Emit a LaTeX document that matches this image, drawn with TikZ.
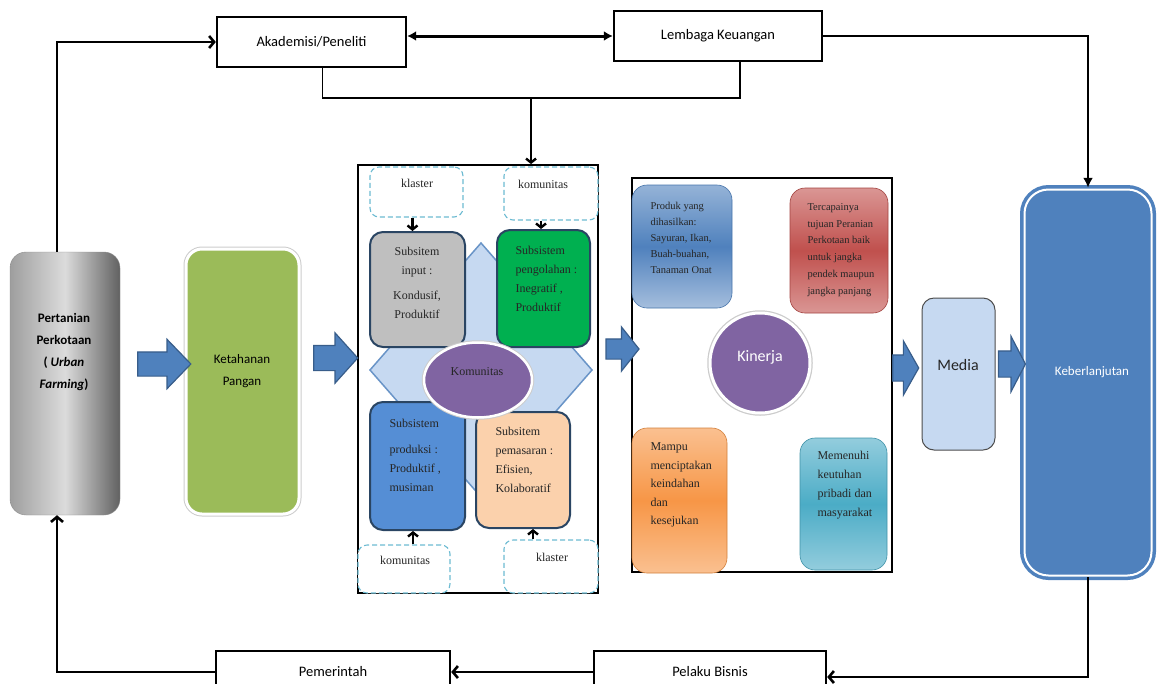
\documentclass[tikz,border=0pt]{standalone}
\usepackage{fontspec}
\setmainfont{Liberation Serif}
\newfontfamily\calibri{Carlito}
\usetikzlibrary{arrows.meta,shapes.geometric,shapes.arrows}

\definecolor{ofblue}{HTML}{4F81BD}
\definecolor{ofdarkblue}{HTML}{385D8A}
\definecolor{oflightblue}{HTML}{C6D9F1}
\definecolor{ofpurple}{HTML}{8064A2}
\definecolor{ofgreen}{HTML}{9BBB59}
\definecolor{ofbrightgreen}{HTML}{00B050}
\definecolor{ofpeach}{HTML}{FBD1AC}
\definecolor{ofprodblue}{HTML}{558ED5}
\definecolor{ofedge}{HTML}{2A4563}
\definecolor{ofdash}{HTML}{6DBBD2}
\definecolor{blueTop}{HTML}{95B3D7}
\definecolor{redTop}{HTML}{DA9694}
\definecolor{redMid}{HTML}{C0504D}
\definecolor{orangeTop}{HTML}{FAC090}
\definecolor{orangeMid}{HTML}{F79646}
\definecolor{tealTop}{HTML}{93CDDD}
\definecolor{tealMid}{HTML}{4BACC6}

\begin{document}
\begin{tikzpicture}[x=1pt, y=-1pt,
  flow/.style={line width=2.6pt, -{Straight Barb[length=5pt,width=12pt]}},
  topbox/.style={draw, line width=2.4pt, fill=white, minimum height=#1,
    font=\calibri\fontsize{14.5}{17}\selectfont},
  dashbox/.style={draw=ofdash, fill=white, line width=1.1pt, rounded corners=9pt,
    dash pattern=on 5pt off 3pt},
  subbox/.style={draw=ofedge, line width=2pt, rounded corners=13pt},
  kinbox/.style={line width=0.6pt, rounded corners=15pt},
  blockarrow/.style={single arrow, draw=ofdarkblue, fill=ofblue, line width=1.2pt,
    inner xsep=0pt, text height=0pt, text depth=0pt},
  feed/.style={line width=2.4pt, -{Straight Barb[length=4pt,width=10pt]}},
  serif/.style={font=\fontsize{#1}{#1}\selectfont, text=black!85},
  subtxt/.style={align=left, anchor=west, text=black!85},
  calitxt/.style={font=\calibri\fontsize{#1}{22}\selectfont, align=center}]

  \useasboundingbox (0,0) rectangle (1158,683);

  % Top row
  \node[topbox=50pt, minimum width=189pt] (akad) at (311.5,42) {Akademisi/Peneliti};
  \node[topbox=50pt, minimum width=208pt] (lemb) at (718,36) {Lembaga Keuangan};
  \draw[line width=3pt, {Latex[length=9pt,width=10pt]}-{Latex[length=9pt,width=10pt]}]
    (akad.east |- lemb.west) -- (lemb.west);

  \coordinate (join) at (531,98);
  \draw[line width=1.5pt] ([xshift=11pt]akad.south) -- ([xshift=11pt]akad.south |- join)
    -- ([xshift=22pt]lemb.south |- join) -- ([xshift=22pt]lemb.south);

  % Bottom row
  \node[topbox=42pt, minimum width=234pt] (pemer) at (333,672) {Pemerintah};
  \node[topbox=42pt, minimum width=232pt] (pelaku) at (710,672) {Pelaku Bisnis};

  % Left column
  \node[rounded corners=16pt, draw=black!45, minimum width=110pt, minimum height=263pt,
    left color=black!38, right color=black!62, middle color=black!14] (pert) at (65,383.5) {};
  \node[calitxt=13, font=\calibri\bfseries\fontsize{13}{22}\selectfont] (pertT) at (64,352)
    {Pertanian\\Perkotaan\\( \textit{Urban}\\\textit{Farming})};

  \node[rounded corners=16pt, fill=ofgreen, draw=white, line width=3pt,
    preaction={draw=black!20, line width=5pt}, minimum width=113pt, minimum height=265pt]
    (ketah) at (242.5,381.5) {};
  \node[calitxt=13] (ketahT) at (242,371) {Ketahanan\\Pangan};

  % Subsystems frame
  \node[draw, line width=1.8pt, minimum width=240pt, minimum height=428pt] (frameA) at (478,379) {};
  \draw[fill=oflightblue, draw=ofblue!85, line width=1.5pt]
    (481,243) -- (592,370) -- (481,497) -- (370,370) -- cycle;

  \node[dashbox, minimum width=93pt, minimum height=50pt] (klasA) at (416.5,192) {};
  \node[dashbox, minimum width=94pt, minimum height=53pt] (komA) at (551,193.5) {};
  \node[dashbox, minimum width=92pt, minimum height=48pt] (komB) at (404,569) {};
  \node[dashbox, minimum width=94pt, minimum height=53pt] (klasB) at (551,566.5) {};
  \node[serif=12] (klasAT) at (417,183) {klaster};
  \node[serif=12] (komAT) at (543,184) {komunitas};
  \node[serif=12] (komBT) at (405,560) {komunitas};
  \node[serif=12] (klasBT) at (552,557) {klaster};

  \node[subbox, fill=black!25, minimum width=95pt, minimum height=115pt] (input) at (417.5,289.5) {};
  \node[subbox, fill=ofbrightgreen, minimum width=93pt, minimum height=117pt] (peng) at (543.5,288.5) {};
  \node[subbox, fill=ofprodblue, minimum width=95pt, minimum height=128pt] (prod) at (417.5,466) {};
  \node[subbox, fill=ofpeach, minimum width=94pt, minimum height=116pt] (pemas) at (523,470) {};

  \node[font=\fontsize{12}{19}\selectfont, align=center, text=black!85] (inputT) at (417,283)
    {Subsitem\\input :\\[6pt]Kondusif,\\Produktif};
  \node[subtxt, font=\fontsize{12}{19}\selectfont] (pengT) at (512,279)
    {Subsistem\\pengolahan :\\Inegratif ,\\Produktif};
  \node[subtxt, font=\fontsize{12}{19}\selectfont] (prodT) at (386,455)
    {Subsistem\\[7pt]produksi :\\Produktif ,\\musiman};
  \node[subtxt, font=\fontsize{12}{19}\selectfont] (pemasT) at (492,460)
    {Subsitem\\pemasaran :\\Efisien,\\Kolaboratif};

  \node[ellipse, fill=ofpurple, draw=white, line width=2.5pt,
    preaction={draw=black!20, line width=4.5pt}, minimum width=108pt, minimum height=75pt]
    (komun) at (478,380) {};
  \node[serif=12] (komunT) at (477,372) {Komunitas};

  \draw[feed] ([xshift=-4pt]klasA.south) -- ([xshift=-4pt]klasA.south |- input.north);
  \draw[feed] ([xshift=-10pt]komA.south) -- ([xshift=-10pt]komA.south |- peng.north);
  \draw[feed] ([xshift=9pt]komB.north) -- ([xshift=9pt]komB.north |- prod.south);
  \draw[feed] ([xshift=-18pt]klasB.north) -- ([xshift=-18pt]klasB.north |- pemas.south);

  % Kinerja frame
  \node[draw, line width=1.8pt, minimum width=260pt, minimum height=394pt] (frameB) at (762,375) {};

  \node[kinbox, draw=ofblue!90!black, top color=blueTop, bottom color=blueTop!85!white, middle color=ofblue,
    minimum width=100pt, minimum height=123pt] (produk) at (682,246.5) {};
  \node[subtxt, font=\fontsize{10.5}{16}\selectfont] (produkT) at (647,237.5)
    {Produk yang\\dihasilkan:\\Sayuran, Ikan,\\Buah-buahan,\\Tanaman Onat};

  \node[kinbox, draw=redMid!85!black, top color=redTop, bottom color=redTop, middle color=redMid,
    minimum width=98pt, minimum height=125pt] (tercap) at (839,250.5) {};
  \node[subtxt, font=\fontsize{10.5}{16.8}\selectfont] (tercapT) at (804,250)
    {Tercapainya\\tujuan Peranian\\Perkotaan baik\\untuk jangka\\pendek maupun\\jangka panjang};

  \node[circle, fill=ofpurple, draw=white, line width=3pt,
    preaction={draw=black!20, line width=5.5pt}, minimum size=100pt] (kinerja) at (760,363) {};
  \node[font=\calibri\fontsize{16}{18}\selectfont, text=white] (kinerjaT) at (760,357) {Kinerja};

  \node[kinbox, draw=orangeMid!85!black, top color=orangeTop, bottom color=orangeTop, middle color=orangeMid,
    minimum width=95pt, minimum height=145pt] (mampu) at (679.5,500.5) {};
  \node[subtxt, font=\fontsize{12}{18.5}\selectfont] (mampuT) at (647,485)
    {Mampu\\menciptakan\\keindahan\\dan\\kesejukan};

  \node[kinbox, draw=tealMid!85!black, top color=tealTop, bottom color=tealTop, middle color=tealMid,
    minimum width=87pt, minimum height=132pt] (memen) at (843.5,504) {};
  \node[subtxt, font=\fontsize{12}{19}\selectfont] (memenT) at (814,485.5)
    {Memenuhi\\keutuhan\\pribadi dan\\masyarakat};

  % Right column
  \node[rounded corners=12pt, fill=oflightblue, draw=black!70, line width=1pt,
    minimum width=73pt, minimum height=152pt] (media) at (958.5,374) {};
  \node[font=\calibri\fontsize{16}{18}\selectfont, text=black!85] (mediaT) at (958,365) {Media};

  \node[rounded corners=24pt, fill=ofblue, draw=ofblue, double=white, double distance=2pt,
    line width=3.5pt, minimum width=127pt, minimum height=386pt] (keb) at (1088,382.5) {};
  \node[font=\calibri\fontsize{13}{15}\selectfont, text=white] (kebT) at (1092,372) {Keberlanjutan};

  % Block arrows
  \node[blockarrow, inner ysep=11.5pt, single arrow head extend=12.5pt, single arrow tip angle=92,
    minimum height=53pt] (arrA) at (158.5,364) {};
  \node[blockarrow, inner ysep=12pt, single arrow head extend=12.5pt, single arrow tip angle=96,
    minimum height=44pt] (arrB) at (330,358) {};
  \node[blockarrow, inner ysep=9.5pt, single arrow head extend=12pt, single arrow tip angle=103,
    minimum height=33pt] (arrC) at (618.5,349) {};
  \node[blockarrow, inner ysep=12.5pt, single arrow head extend=14pt, single arrow tip angle=121,
    minimum height=26pt] (arrD) at (902,368) {};
  \node[blockarrow, inner ysep=12.5pt, single arrow head extend=14.5pt, single arrow tip angle=125,
    minimum height=27pt] (arrE) at (1008.5,364) {};

  % Loop connectors
  \draw[flow] ([xshift=-8pt]pert.north) |- (akad.west);
  \draw[line width=2.6pt, -{Latex[length=10pt,width=10pt]}] (lemb.east) -| (keb.north);
  \draw[feed] (join) -- (join |- frameA.north);
  \draw[flow] (keb.south) |- ([yshift=-5pt]pelaku.east);
  \draw[flow] (pelaku.west) -- (pemer.east);
  \draw[flow] (pemer.west) -| ([xshift=-8pt]pert.south);
\end{tikzpicture}
\end{document}
